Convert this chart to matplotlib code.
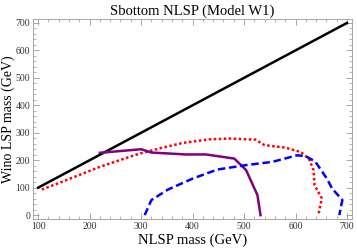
import matplotlib
matplotlib.use('Agg')
import matplotlib.pyplot as plt
from matplotlib.ticker import MultipleLocator

plt.rcParams['font.family'] = ['Liberation Serif', 'DejaVu Serif']

# diagonal (NLSP = LSP)
diag_x = [100, 700]
diag_y = [100, 700]

# red dotted
red_x = [107, 150, 220, 258, 297, 340, 381, 432, 471, 522, 540, 580, 610, 626, 635, 637, 651, 645]
red_y = [93, 124, 176, 200, 224, 245, 263, 276, 279, 275, 255, 246, 230, 206, 164, 109, 61, 6]

# purple solid
pur_x = [220, 300, 320, 387, 426, 481, 504, 526, 532]
pur_y = [227, 240, 228, 221, 221, 206, 164, 73, 0]

# blue dashed
blu_x = [307, 320, 352, 400, 448, 503, 555, 603, 619, 638, 661, 671, 691, 685]
blu_y = [0, 55, 93, 133, 166, 182, 194, 218, 215, 196, 133, 97, 55, 0]

fig = plt.figure(figsize=(3.57, 2.48), dpi=100)
ax = fig.add_axes([0.0924, 0.117, 0.894, 0.806])

ax.plot(diag_x, diag_y, color='black', lw=1.8)
ax.plot(red_x, red_y, color='red', lw=1.8, linestyle=(0, (1, 1)))
ax.plot(pur_x, pur_y, color='purple', lw=1.8)
ax.plot(blu_x, blu_y, color='blue', lw=1.8, linestyle=(0, (3, 1.5)))

ax.set_xlim(90, 710)
ax.set_ylim(-14, 714)
ax.xaxis.set_major_locator(MultipleLocator(100))
ax.xaxis.set_minor_locator(MultipleLocator(20))
ax.yaxis.set_major_locator(MultipleLocator(100))
ax.yaxis.set_minor_locator(MultipleLocator(20))
ax.tick_params(which='both', direction='in', top=True, right=True,
               color='#999999', labelsize=7, pad=2, labelcolor='#333333')
ax.tick_params(which='major', length=4, width=0.6)
ax.tick_params(which='minor', length=2, width=0.5)
for s in ax.spines.values():
    s.set_color('#999999')
    s.set_linewidth(0.6)

ax.set_title('Sbottom NLSP (Model W1)', fontsize=10.5, pad=3)
ax.set_xlabel('NLSP mass (GeV)', fontsize=10.5, labelpad=2)
ax.set_ylabel('Wino LSP mass (GeV)', fontsize=10)
ax.yaxis.set_label_coords(-0.056, 0.5)

fig.savefig('out.png', dpi=100)
